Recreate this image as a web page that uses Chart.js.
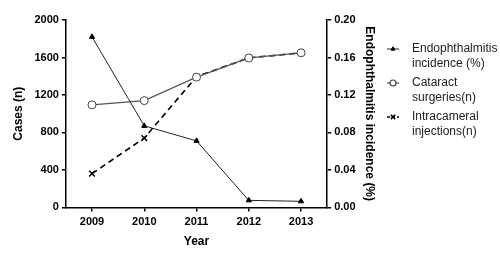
<!DOCTYPE html>
<html>
<head>
<meta charset="utf-8">
<script src="https://cdn.jsdelivr.net/npm/chart.js@4/dist/chart.umd.min.js"></script>
<style>
  html, body { margin: 0; padding: 0; background: #fff; }
  #wrap { width: 500px; height: 254px; position: relative; }
</style>
</head>
<body>
<div id="wrap"><canvas id="chart"></canvas></div>
<script>
// data
const years = ['2009', '2010', '2011', '2012', '2013'];
const incidence = [0.182, 0.087, 0.071, 0.0075, 0.0065];   // %, right axis
const cataract = [1095, 1140, 1390, 1595, 1650];           // n, left axis
const intracameral = [360, 740, 1395, 1595, 1650];         // n, left axis
const legendLabels = [
    ['Endophthalmitis', 'incidence (%)'],
    ['Cataract', 'surgeries(n)'],
    ['Intracameral', 'injections(n)']
];

const FONT = "'Liberation Sans', Arial, sans-serif";

// legend drawn by hand so the labels can wrap on two lines
const sideLegend = {
    id: 'sideLegend',
    afterDraw(chart) {
        const ctx = chart.ctx;
        ctx.save();
        [0, 1, 2].forEach((i, n) => {
            const ds = chart.data.datasets.find(d => d.legendIndex === i);
            const y = 49 + n * 34;
            ctx.strokeStyle = ds.borderColor;
            ctx.lineWidth = ds.borderWidth;
            ctx.setLineDash(ds.borderDash ? [3, 2] : []);
            ctx.beginPath();
            ctx.moveTo(387, y);
            ctx.lineTo(399, y);
            ctx.stroke();
            ctx.setLineDash([]);
            ctx.fillStyle = ds.pointBackgroundColor || '#fff';
            ctx.strokeStyle = ds.pointBorderColor;
            Chart.helpers.drawPoint(ctx, {
                pointStyle: ds.pointStyle,
                radius: ds.pointRadius * 0.75,
                borderWidth: 1
            }, 393, y);
            ctx.font = '12px ' + FONT;
            ctx.fillStyle = '#222';
            ctx.textBaseline = 'middle';
            legendLabels[i].forEach((line, k) => {
                ctx.fillText(line, 412, y + k * 15);
            });
        });
        ctx.restore();
    }
};

new Chart(document.getElementById('chart'), {
    type: 'line',
    data: {
        labels: years,
        datasets: [
            {
                label: 'Cataract surgeries(n)',
                legendIndex: 1,
                data: cataract,
                yAxisID: 'y',
                borderColor: '#555',
                borderWidth: 1.2,
                pointStyle: 'circle',
                pointRadius: 4,
                pointBackgroundColor: '#fff',
                pointBorderColor: '#444',
                pointBorderWidth: 1
            },
            {
                label: 'Intracameral injections(n)',
                legendIndex: 2,
                data: intracameral,
                yAxisID: 'y',
                borderColor: '#000',
                borderWidth: 1.6,
                borderDash: [6, 4],
                pointStyle: 'crossRot',
                pointRadius: 4,
                pointBorderColor: '#000',
                pointBorderWidth: 1.5
            },
            {
                label: 'Endophthalmitis incidence (%)',
                legendIndex: 0,
                data: incidence,
                yAxisID: 'y1',
                borderColor: '#222',
                borderWidth: 1,
                pointStyle: 'triangle',
                pointRadius: 3,
                pointBackgroundColor: '#000',
                pointBorderColor: '#000',
                pointBorderWidth: 1
            }
        ]
    },
    options: {
        responsive: true,
        maintainAspectRatio: false,
        animation: false,
        layout: { padding: { top: 20, right: 113, left: 7, bottom: 1 } },
        plugins: {
            legend: { display: false },
            tooltip: { enabled: false }
        },
        scales: {
            x: {
                type: 'category',
                offset: true,
                border: { color: '#000', width: 1.5 },
                grid: { drawOnChartArea: false, color: '#000', tickLength: 4, lineWidth: 1.5 },
                ticks: { color: '#000', font: { family: FONT, size: 11, weight: 'bold' }, padding: 4 },
                title: { display: true, text: 'Year', color: '#000', font: { family: FONT, size: 12, weight: 'bold' }, padding: { top: 2 } }
            },
            y: {
                position: 'left',
                min: 0,
                max: 2000,
                border: { color: '#000', width: 1.5 },
                grid: { drawOnChartArea: false, color: '#000', tickLength: 4, lineWidth: 1.5 },
                ticks: {
                    stepSize: 400,
                    color: '#000',
                    font: { family: FONT, size: 11, weight: 'bold' },
                    padding: 3,
                    callback: v => String(v)
                },
                title: { display: true, text: 'Cases (n)', color: '#000', font: { family: FONT, size: 12, weight: 'bold' }, padding: { bottom: 6 } }
            },
            y1: {
                position: 'right',
                min: 0,
                max: 0.2,
                border: { color: '#000', width: 1.5 },
                grid: { drawOnChartArea: false, color: '#000', tickLength: 4, lineWidth: 1.5 },
                ticks: {
                    stepSize: 0.04,
                    color: '#000',
                    font: { family: FONT, size: 11, weight: 'bold' },
                    padding: 3,
                    callback: v => v.toFixed(2)
                },
                title: { display: true, text: 'Endophthalmitis incidence (%)', color: '#000', font: { family: FONT, size: 12, weight: 'bold' }, padding: { top: 10 } }
            }
        }
    },
    plugins: [sideLegend]
});
</script>
</body>
</html>
